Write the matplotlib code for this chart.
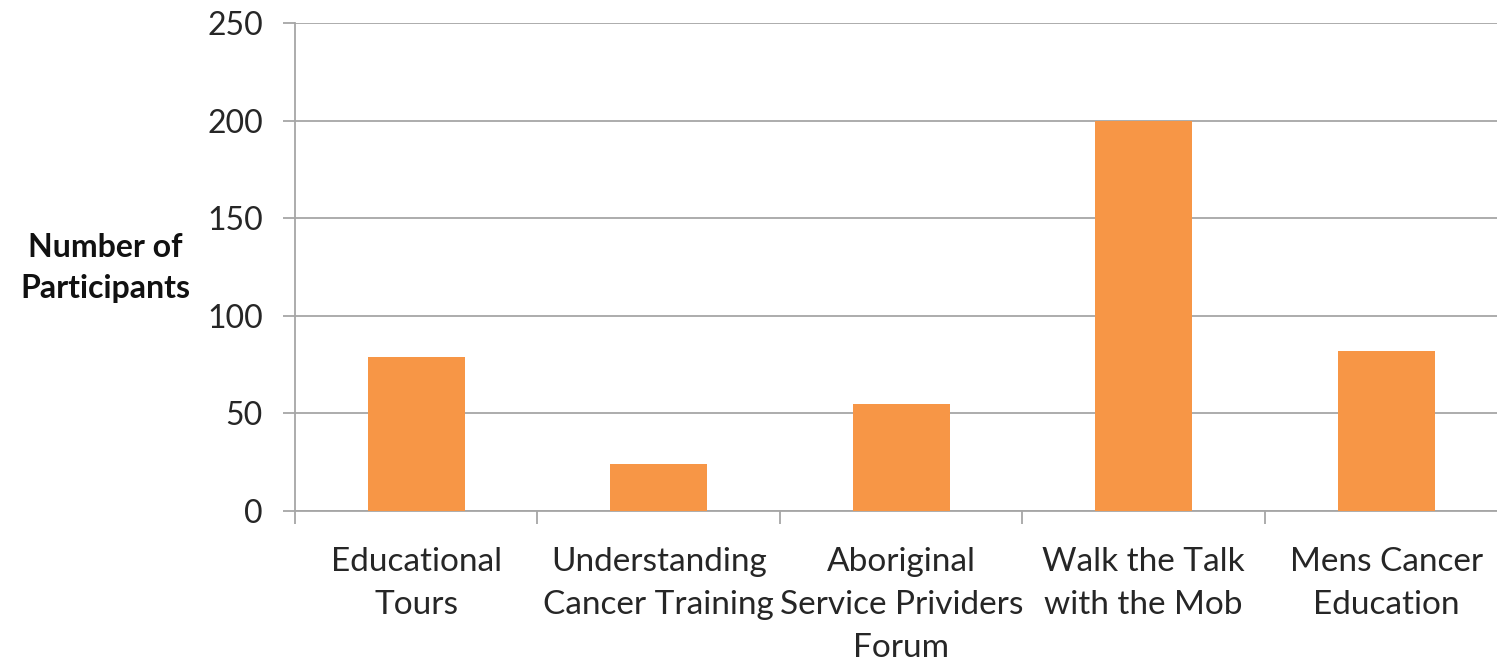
import matplotlib.pyplot as plt
import numpy as np

# Data
categories = ["Educational\nTours", "Understanding\nCancer Training", "Aboriginal\nService Prividers\nForum",
              "Walk the Talk\nwith the Mob", "Mens Cancer\nEducation"]
participants = [79, 24, 55, 200, 82]
y_ticks = [0, 50, 100, 150, 200, 250]

plt.rcParams['font.family'] = ['Lato', 'DejaVu Sans']

fig = plt.figure(figsize=(14.97, 6.65), dpi=100)
ax = fig.add_axes([0.197, 0.2316, 0.81, 0.7338])

x = np.arange(len(categories))
ax.bar(x, participants, width=0.4, color='#f79646', zorder=3)

ax.set_xlim(-0.5, len(categories) - 0.5)
ax.set_ylim(0, 250)
ax.set_yticks(y_ticks)
ax.yaxis.grid(True, color='#a6a6a6', linewidth=1.3, zorder=0)

# category labels centred, ticks on the boundaries
ax.set_xticks(np.arange(len(categories) + 1) - 0.5)
ax.set_xticklabels([])
ax.set_xticks(x, minor=True)
ax.set_xticklabels(categories, minor=True, fontsize=24, color='#262626', linespacing=1.55)
ax.tick_params(axis='x', which='minor', length=0, pad=26)
ax.tick_params(axis='x', which='major', length=9, color='#a6a6a6', width=1.3)
ax.tick_params(axis='y', length=9, color='#a6a6a6', width=1.3, labelsize=23, labelcolor='#262626', pad=14)

for side in ['top', 'right']:
    ax.spines[side].set_visible(False)
for side in ['left', 'bottom']:
    ax.spines[side].set_color('#a6a6a6')
    ax.spines[side].set_linewidth(1.3)

fig.text(0.0705, 0.597, "Number of\nParticipants", ha='center', va='center',
         fontsize=23, fontweight='bold', color='#111111', linespacing=1.5)

fig.savefig("out.png", dpi=100)
